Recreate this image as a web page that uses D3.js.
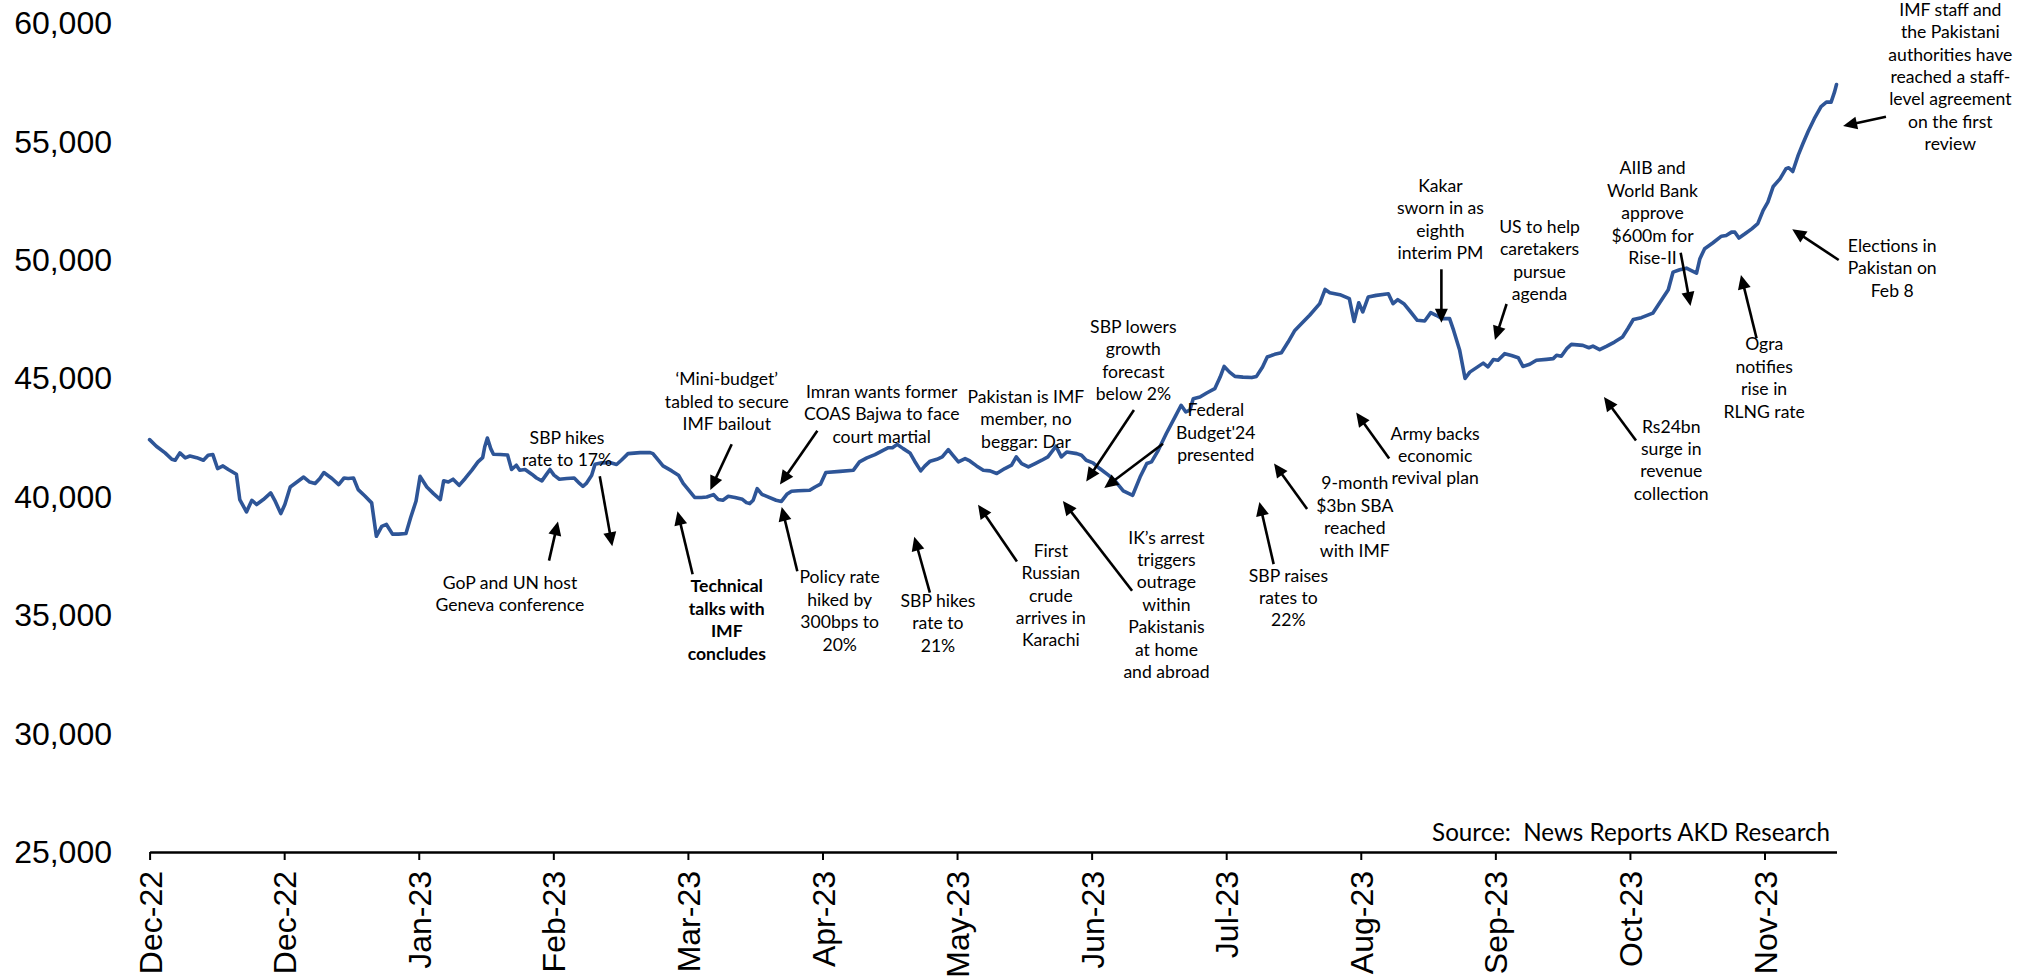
<!DOCTYPE html>
<html><head><meta charset="utf-8">
<script src="https://cdn.jsdelivr.net/npm/d3@7"></script>
<style>body{margin:0;background:#fff;} svg{display:block}</style>
</head><body>
<svg id="chart" width="2022" height="978"></svg>
<script>
// trading-day position (category index) of each reading
const days = [0.0,1.0,2.3,3.3,3.8,4.5,5.3,6.0,7.0,8.0,8.7,9.4,10.1,10.9,11.7,12.9,13.4,14.4,15.2,15.9,16.9,18.0,18.6,19.5,20.1,20.9,21.9,22.9,23.8,24.6,25.3,25.9,27.1,28.1,28.9,29.5,30.3,31.0,32.0,33.0,33.7,34.5,35.2,36.1,37.0,38.1,38.8,39.6,40.2,
41.2,42.2,43.2,43.7,44.4,45.1,46.0,46.9,47.9,48.8,49.5,49.8,50.2,50.7,51.1,52.1,53.2,53.8,54.5,55.0,55.8,56.8,57.5,58.3,58.9,59.5,60.1,60.9,62.0,63.1,63.9,64.4,64.9,65.7,66.2,67.2,68.4,69.4,70.1,71.1,72.9,74.4,74.8,75.6,76.3,77.6,78.6,79.3,80.0,81.0,82.0,
82.8,83.8,84.5,85.2,86.0,87.0,88.1,88.7,89.2,89.7,90.3,91.0,91.9,93.1,93.9,94.7,95.4,96.4,98.1,98.9,99.7,100.5,102.6,104.6,105.5,106.6,107.8,109.0,109.8,110.4,111.1,112.0,113.0,113.7,114.6,115.2,116.0,117.0,117.8,118.7,119.3,120.2,121.2,121.9,122.9,123.9,124.9,
125.9,127.1,128.1,128.8,129.6,130.6,131.6,132.6,133.5,134.7,135.5,136.3,137.8,138.5,139.2,140.2,141.2,142.5,143.4,144.7,146.1,147.2,148.2,148.9,149.9,151.1,152.4,153.3,154.0,154.6,155.1,156.1,157.1,158.3,159.1,159.7,160.5,161.3,162.5,163.8,164.5,165.4,166.1,
167.2,168.2,169.2,170.2,171.2,172.4,173.9,174.7,175.4,176.9,178.3,179.0,179.7,180.3,181.1,182.3,184.1,184.8,185.5,186.4,187.3,188.4,189.5,190.4,191.2,192.1,193.2,193.8,194.7,195.5,196.2,197.2,198.2,198.9,199.7,200.4,201.4,202.4,203.4,204.1,205.1,206.1,207.6,208.6,209.1,209.8,
210.6,211.3,213.0,213.9,214.5,215.5,216.5,217.7,218.9,219.7,220.5,221.7,223.4,224.4,225.7,226.4,227.4,228.4,228.9,229.9,230.4,231.1,232.3,233.6,234.3,235.1,235.6,236.2,237.1,238.1,239.0,239.8,240.5,241.3,242.3,243.2,243.6,244.2,245.0,245.7,246.5,247.4,248.4,249.2,249.9,250.4,250.7];
// index level read at each position
const values = [42410,42130,41850,41580,41540,41850,41640,41720,41650,41540,41750,41780,41190,41300,41150,40950,39880,39360,39850,39670,39880,40160,39850,39290,39670,40410,40620,40830,40620,40560,40770,41020,40770,40510,40790,40770,40790,40300,40030,39740,38330,38750,38830,38420,38420,38450,39120,39820,40860,
40410,40130,39880,40670,40620,40740,40480,40770,41120,41470,41650,42100,42480,42030,41790,41780,41760,41150,41330,41120,41150,40950,40790,40670,40910,41150,40910,40740,40770,40790,40560,40440,40560,40910,41370,41430,41440,41360,41540,41820,41860,41860,41820,41540,41300,41090,40910,40560,40320,39970,39970,
39990,40090,39880,39850,40020,39970,39890,39750,39710,39850,40340,40100,39990,39850,39800,40100,40230,40250,40270,40410,40530,41020,41070,41120,41470,41640,41780,41960,42070,42070,42210,42030,41850,41500,41090,41290,41500,41580,41680,41990,41780,41470,41610,41510,41300,41120,41090,
40980,41190,41330,41680,41400,41260,41400,41540,41680,42130,41680,41890,41820,41750,41540,41430,41190,40910,40700,40250,40060,40830,41400,41470,41960,42670,43370,43860,43580,43650,44140,44210,44380,44560,45050,45500,45260,45080,45050,45030,45080,45480,45900,
46010,46080,46530,47020,47310,47660,48150,48750,48610,48530,48360,47400,48190,47800,48430,48500,48570,48150,48320,48150,47840,47450,47420,47770,47660,47520,47520,47020,46180,44990,45260,45450,45640,45480,45790,45760,46040,45960,45870,45500,45590,45760,45800,45830,45970,45930,
46250,46430,46390,46290,46360,46210,46350,46530,46740,47100,47480,47560,47750,48180,48740,49480,49580,49650,49580,49440,50050,50470,50710,51000,51030,51170,51170,50920,51100,51310,51530,52090,52440,53100,53420,53850,53890,53730,54410,54900,55430,55960,56470,56660,56660,57080,57400];

const tickDays = [0,20,40,60,80,100,120,140,160,180,200,220,240];
const tickLabels = ["Dec-22","Dec-22","Jan-23","Feb-23","Mar-23","Apr-23","May-23","Jun-23","Jul-23","Aug-23","Sep-23","Oct-23","Nov-23"];
const yTicks = [25000,30000,35000,40000,45000,50000,55000,60000];
const sourceText = "Source:  News Reports AKD Research";

// annotations: text centre (day, level of first line), arrow tail -> head (day, level)
const notes = [
  {lines:["GoP and UN host","Geneva conference"], t:[53.56,36374], a:[59.36,37303], h:[60.69,38958]},
  {lines:["SBP hikes","rate to 17%"], t:[62.04,42500], a:[66.90,40866], h:[68.76,37907]},
  {lines:["Technical","talks with","IMF","concludes"], t:[85.78,36222], a:[80.70,36729], h:[78.45,39389], bold:true},
  {lines:["\u2018Mini-budget\u2019","tabled to secure","IMF bailout"], t:[85.78,44957], a:[86.51,42217], h:[83.33,40284]},
  {lines:["Imran wants former","COAS Bajwa to face","court martial"], t:[108.80,44434], a:[99.24,42787], h:[93.68,40516]},
  {lines:["Policy rate","hiked by","300bps to","20%"], t:[102.56,36598], a:[96.26,36855], h:[93.94,39566]},
  {lines:["SBP hikes","rate to","21%"], t:[117.16,35606], a:[115.96,35952], h:[113.64,38312]},
  {lines:["Pakistan is IMF","member, no","beggar: Dar"], t:[130.24,44223]},
  {lines:["First","Russian","crude","arrives in","Karachi"], t:[133.94,37725], a:[128.90,37261], h:[123.12,39663]},
  {lines:["IK\u2019s arrest","triggers","outrage","within","Pakistanis","at home","and abroad"], t:[151.12,38282], a:[146.01,36028], h:[135.73,39815]},
  {lines:["SBP lowers","growth","forecast","below 2%"], t:[146.20,47178], a:[146.29,43661], h:[139.20,40643]},
  {lines:["Federal","Budget'24","presented"], t:[158.45,43649], a:[150.60,42238], h:[141.88,40368]},
  {lines:["SBP raises","rates to","22%"], t:[169.24,36674], a:[167.05,37155], h:[164.93,39781]},
  {lines:["9-month","$3bn SBA","reached","with IMF"], t:[179.11,40567], a:[172.02,39481], h:[167.11,41407]},
  {lines:["Army backs","economic","revival plan"], t:[191.05,42669], a:[184.22,41618], h:[179.31,43552]},
  {lines:["Kakar","sworn in as","eighth","interim PM"], t:[191.84,53131], a:[191.98,49602], h:[191.98,47347]},
  {lines:["US to help","caretakers","pursue","agenda"], t:[206.57,51400], a:[201.67,48137], h:[199.94,46617]},
  {lines:["Rs24bn","surge in","revenue","collection"], t:[226.14,42969], a:[220.90,42369], h:[216.14,44210]},
  {lines:["AIIB and","World Bank","approve","$600m for","Rise-II"], t:[223.36,53866], a:[227.54,50302], h:[229.00,48052]},
  {lines:["Ogra","notifies","rise in","RLNG rate"], t:[239.95,46435], a:[238.82,46688], h:[236.50,49361]},
  {lines:["Elections in","Pakistan on","Feb 8"], t:[258.98,50598], a:[251.03,49994], h:[244.12,51290]},
  {lines:["IMF staff and","the Pakistani","authorities have","reached a staff-","level agreement","on the first","review"], t:[267.62,60560], a:[258.05,56044], h:[251.68,55652]}
];

const svg = d3.select("#chart");
const x = d3.scaleLinear().domain([0, 250.7]).range([149.6, 1836.5]);
const y = d3.scaleLinear().domain([25000, 60000]).range([852, 23]);

// y labels (no axis line)
svg.append("g").selectAll("text").data(yTicks).join("text")
  .attr("x", 112).attr("y", d => y(d)).attr("dy", "0.35em")
  .attr("text-anchor", "end")
  .style("font-family", "'Liberation Sans', Arial, sans-serif").style("font-size", "32px")
  .text(d => d3.format(",")(d));

// x axis
const xAxis = d3.axisBottom(x).tickValues(tickDays).tickSize(8).tickSizeOuter(0)
  .tickFormat((d, i) => tickLabels[i]);
const gx = svg.append("g").attr("transform", `translate(0,${y(25000)})`).call(xAxis);
gx.select(".domain").attr("stroke", "#000").attr("stroke-width", 2.5);
gx.selectAll(".tick line").attr("stroke", "#000").attr("stroke-width", 2);
gx.selectAll(".tick text")
  .attr("transform", "rotate(-90)")
  .attr("x", -19).attr("y", 0).attr("dy", "0.36em")
  .attr("text-anchor", "end")
  .attr("fill", "#000")
  .style("font-family", "'Liberation Sans', Arial, sans-serif").style("font-size", "32px");

// source
svg.append("text").attr("x", 1830).attr("y", 841).attr("text-anchor", "end")
  .style("font-family", "Lato, 'Open Sans', sans-serif").style("font-size", "24.2px")
  .style("white-space", "pre").text(sourceText);

// series line
const pts = days.map((d, i) => [d, values[i]]);
svg.append("path").datum(pts)
  .attr("fill", "none").attr("stroke", "#2E5597").attr("stroke-width", 3.6)
  .attr("stroke-linejoin", "round").attr("stroke-linecap", "round")
  .attr("d", d3.line().x(d => x(d[0])).y(d => y(d[1])));

// annotations
const lineH = 22.4;
const ag = svg.append("g");
notes.forEach(n => {
  const t = ag.append("text")
    .attr("text-anchor", "middle")
    .style("font-family", "Lato, 'Open Sans', sans-serif")
    .style("font-size", "17.6px")
    .style("font-weight", n.bold ? "700" : "400")
    .attr("fill", "#000");
  n.lines.forEach((l, i) => {
    t.append("tspan").attr("x", x(n.t[0])).attr("y", y(n.t[1]) + i * lineH).attr("dy", "0.35em").text(l);
  });
  if (n.a) {
    const x1 = x(n.a[0]), y1 = y(n.a[1]), x2 = x(n.h[0]), y2 = y(n.h[1]);
    const dx = x2 - x1, dy = y2 - y1, L = Math.hypot(dx, dy);
    const ux = dx / L, uy = dy / L;
    const hl = 14, hw = 6.5;
    const bx = x2 - ux * hl, by = y2 - uy * hl;
    ag.append("line").attr("x1", x1).attr("y1", y1).attr("x2", bx + ux * 2).attr("y2", by + uy * 2)
      .attr("stroke", "#000").attr("stroke-width", 2.6);
    ag.append("path")
      .attr("d", `M${x2},${y2}L${bx - uy * hw},${by + ux * hw}L${bx + uy * hw},${by - ux * hw}Z`)
      .attr("fill", "#000");
  }
});
</script>
</body></html>
